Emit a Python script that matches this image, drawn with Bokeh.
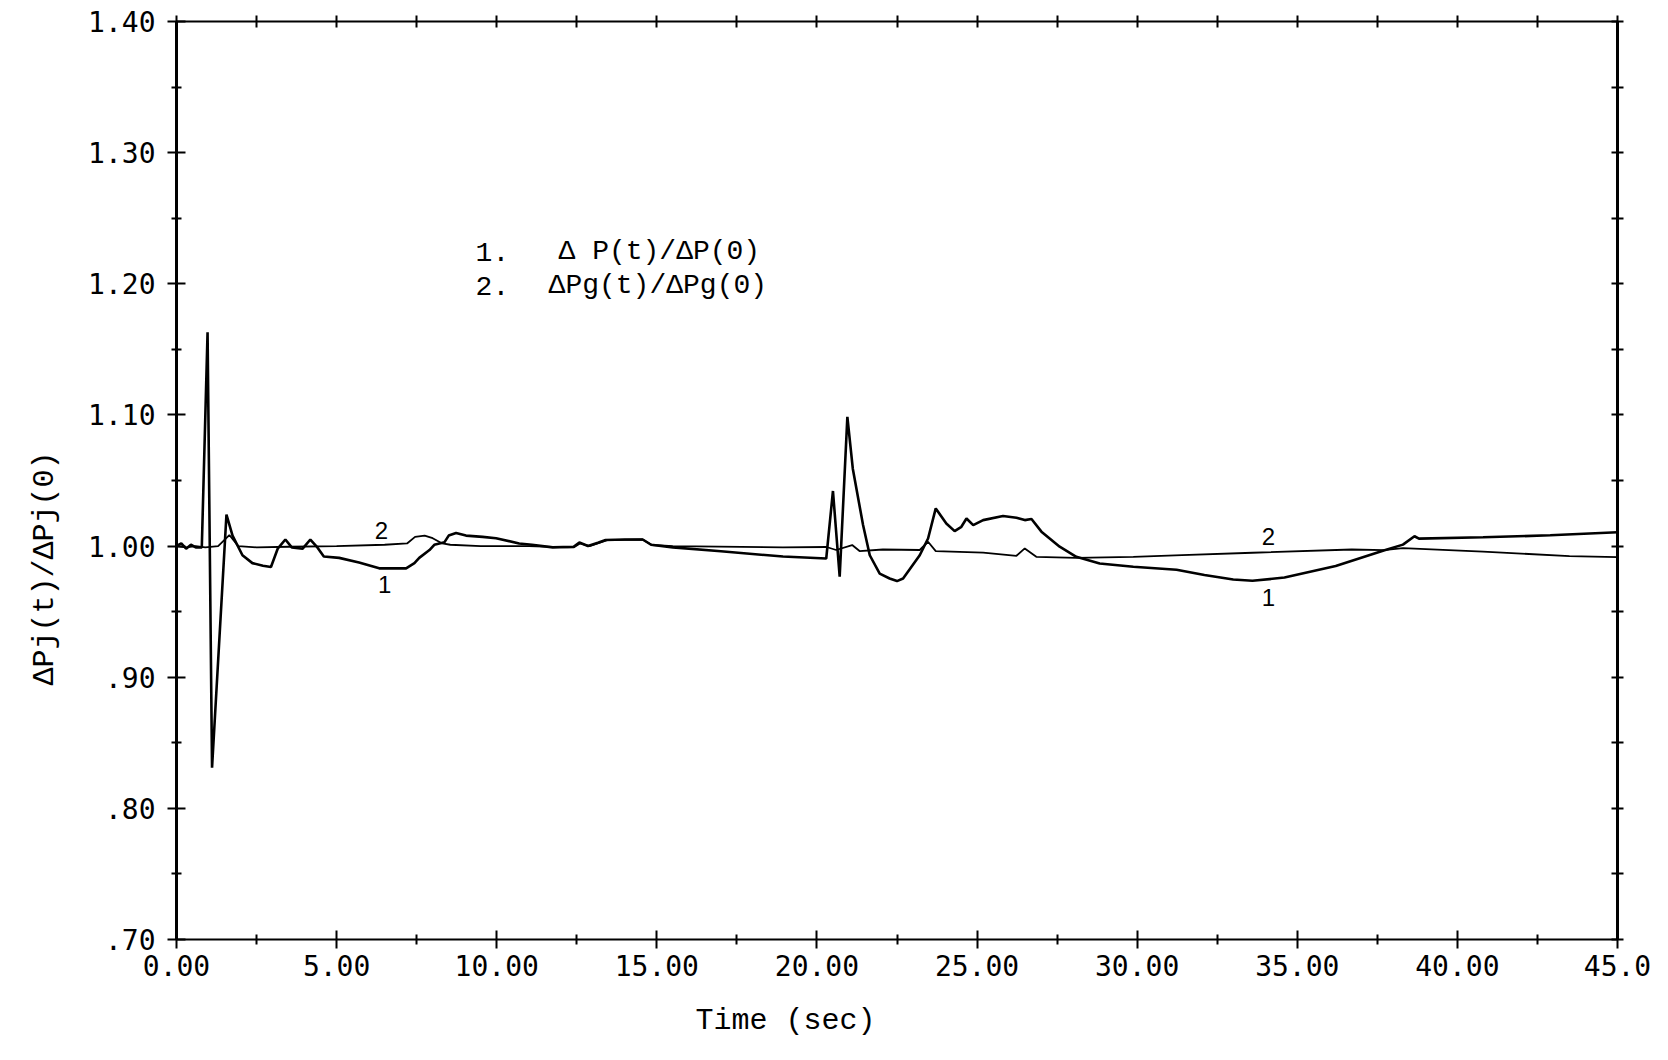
from bokeh.plotting import figure
from bokeh.models import Range1d, LinearAxis, FixedTicker, CustomJSTickFormatter, Label, Title
from bokeh.embed import file_html
from bokeh.resources import INLINE

# --- data -------------------------------------------------------------
# Curve 1: normalised real-power deviation  dP(t)/dP(0)
t_p = [0.00, 0.15, 0.30, 0.45, 0.60, 0.79, 0.97, 1.11, 1.56, 1.75,
       2.06, 2.37, 2.70, 2.95, 3.16, 3.40, 3.60, 3.94, 4.18, 4.40,
       4.60, 5.08, 5.70, 6.33, 7.17, 7.43, 7.58, 7.90, 8.05, 8.37,
       8.50, 8.73, 9.04, 9.56, 9.98, 10.70, 11.10, 11.75, 12.40, 12.58,
       12.85, 13.16, 13.40, 14.00, 14.56, 14.82, 15.50, 17.00, 18.94, 20.29,
       20.50, 20.71, 20.95, 21.12, 21.44, 21.65, 21.96, 22.27, 22.50, 22.69,
       23.21, 23.47, 23.71, 24.04, 24.30, 24.51, 24.67, 24.88, 25.19, 25.81,
       26.23, 26.49, 26.70, 27.01, 27.58, 28.10, 28.83, 29.88, 31.23, 32.10,
       33.00, 33.60, 34.60, 36.20, 37.70, 38.30, 38.66, 38.80, 40.80, 42.90,
       45.00]
dp = [1.000, 1.002, 0.998, 1.001, 0.999, 0.999, 1.163, 0.831, 1.024, 1.008,
      0.993, 0.987, 0.985, 0.984, 0.998, 1.005, 0.999, 0.998, 1.005, 0.999,
      0.992, 0.991, 0.9875, 0.983, 0.983, 0.987, 0.991, 0.997, 1.001, 1.003,
      1.008, 1.010, 1.008, 1.007, 1.006, 1.002, 1.001, 0.999, 0.9995, 1.0027,
      1.000, 1.0025, 1.0046, 1.005, 1.005, 1.001, 0.999, 0.996, 0.992, 0.9905,
      1.042, 0.9766, 1.0986, 1.059, 1.016, 0.993, 0.979, 0.9753, 0.9733, 0.9753,
      0.993, 1.0058, 1.0287, 1.0172, 1.0114, 1.0147, 1.021, 1.016, 1.0198, 1.0229,
      1.0216, 1.0198, 1.0206, 1.011, 0.9995, 0.9918, 0.9867, 0.9842, 0.982, 0.978,
      0.9745, 0.9735, 0.976, 0.9848, 0.9966, 1.0011, 1.0075, 1.0057, 1.0067, 1.0082,
      1.0105]

# Curve 2: normalised generator-power deviation  dPg(t)/dPg(0)
t_pg = [0.00, 0.30, 0.60, 0.90, 1.30, 1.65, 1.93, 2.50, 3.50, 5.00,
        6.50, 7.20, 7.45, 7.75, 8.00, 8.30, 8.55, 9.50, 11.00, 12.20,
        12.40, 12.60, 12.90, 13.20, 13.45, 14.55, 14.85, 15.50, 18.94, 20.30,
        20.60, 21.10, 21.33, 22.06, 23.21, 23.47, 23.71, 25.19, 26.23, 26.49,
        26.85, 28.10, 29.88, 31.40, 33.60, 36.70, 37.70, 38.30, 40.80, 43.50,
        45.00]
dpg = [1.000, 0.999, 1.000, 0.999, 1.000, 1.0084, 1.000, 0.999, 0.9995, 1.000,
       1.001, 1.002, 1.007, 1.008, 1.006, 1.002, 1.001, 1.000, 1.000, 0.999,
       0.999, 1.002, 1.000, 1.0025, 1.0046, 1.005, 1.0008, 1.000, 0.999, 0.9993,
       0.997, 1.0008, 0.9962, 0.9974, 0.997, 1.0033, 0.9962, 0.995, 0.9926, 0.9982,
       0.9918, 0.991, 0.9918, 0.9931, 0.9949, 0.9974, 0.9969, 0.9985, 0.9957, 0.9924,
       0.9916]

x_ticks = [0, 5, 10, 15, 20, 25, 30, 35, 40, 45]
x_tick_labels = ["0.00", "5.00", "10.00", "15.00", "20.00", "25.00",
                 "30.00", "35.00", "40.00", "45.0"]
y_ticks = [0.70, 0.80, 0.90, 1.00, 1.10, 1.20, 1.30, 1.40]
y_tick_labels = [".70", ".80", ".90", "1.00", "1.10", "1.20", "1.30", "1.40"]

legend_lines = [("1.", "\u0394 P(t)/\u0394P(0)"), ("2.", "\u0394Pg(t)/\u0394Pg(0)")]
x_title = "Time (sec)"
y_title = "\u0394Pj(t)/\u0394Pj(0)"

# --- figure -----------------------------------------------------------
p = figure(width=1668, height=1060, output_backend="svg", toolbar_location=None,
           x_range=Range1d(0, 45), y_range=Range1d(0.70, 1.40),
           min_border_left=176, min_border_right=51,
           min_border_top=21, min_border_bottom=121)
p.outline_line_color = None
p.grid.visible = False
p.background_fill_color = "white"
p.border_fill_color = "white"

TICK_FONT = "DejaVu Sans Mono"
TEXT_FONT = "Liberation Mono"


def fmt(vals, labels):
    return CustomJSTickFormatter(
        args=dict(tv=vals, tl=labels),
        code="const i = tv.findIndex(v => Math.abs(v - tick) < 1e-6);"
             "return i >= 0 ? tl[i] : '';")


xa = p.xaxis[0]
xa.ticker = FixedTicker(ticks=x_ticks, minor_ticks=[2.5 + 5 * i for i in range(9)])
xa.formatter = fmt(x_ticks, x_tick_labels)
xa.axis_line_width = 2
xa.major_tick_in = 9
xa.major_tick_out = 9
xa.major_tick_line_width = 2
xa.minor_tick_in = 5
xa.minor_tick_out = 5
xa.minor_tick_line_width = 2
xa.major_label_standoff = 6
xa.major_label_text_font = TICK_FONT
xa.major_label_text_font_size = "28px"
xa.major_label_text_color = "black"

ya = p.yaxis[0]
ya.ticker = FixedTicker(ticks=y_ticks, minor_ticks=[0.75, 0.85, 0.95, 1.05, 1.15, 1.25, 1.35])
ya.formatter = fmt(y_ticks, y_tick_labels)
ya.axis_line_width = 3
ya.major_tick_in = 9
ya.major_tick_out = 9
ya.major_tick_line_width = 2
ya.minor_tick_in = 5
ya.minor_tick_out = 5
ya.minor_tick_line_width = 2
ya.major_label_standoff = 12
ya.major_label_text_font = TICK_FONT
ya.major_label_text_font_size = "28px"
ya.major_label_text_color = "black"

# frame: top and right axes carry ticks only
top = LinearAxis(ticker=FixedTicker(ticks=[2.5 * i for i in range(19)], minor_ticks=[]),
                 axis_line_width=2, major_tick_in=6, major_tick_out=6,
                 major_tick_line_width=2, major_label_text_font_size="1px",
                 major_label_standoff=0, major_label_text_color=None)
right = LinearAxis(ticker=FixedTicker(ticks=[0.70 + 0.05 * i for i in range(15)], minor_ticks=[]),
                   axis_line_width=3, major_tick_in=6, major_tick_out=6,
                   major_tick_line_width=2, major_label_text_font_size="1px",
                   major_label_standoff=0, major_label_text_color=None)
p.add_layout(top, "above")
p.add_layout(right, "right")

# axis titles as side panels
p.add_layout(Title(text=x_title, align="left", offset=519, standoff=46,
                   text_font=TEXT_FONT, text_font_size="30px",
                   text_font_style="normal", text_color="black"), "below")
p.add_layout(Title(text=y_title, align="left", offset=254, standoff=48,
                   text_font=TEXT_FONT, text_font_size="30px",
                   text_font_style="normal", text_color="black"), "left")

# --- curves -----------------------------------------------------------
p.line(t_pg, dpg, line_color="black", line_width=1.8)
p.line(t_p, dp, line_color="black", line_width=2.6)

# curve tags
for tx, ty, s in [(6.4, 1.012, "2"), (6.5, 0.971, "1"), (34.1, 1.0076, "2"), (34.1, 0.961, "1")]:
    p.add_layout(Label(x=tx, y=ty, text=s, text_font="Liberation Sans",
                       text_font_size="24px", text_align="center",
                       text_baseline="middle", text_color="black"))

# legend text
for (num, expr), ly, ex in zip(legend_lines, [1.2244, 1.1985], [11.93, 11.62]):
    p.add_layout(Label(x=9.34, y=ly, text=num, text_font=TEXT_FONT, text_font_size="28px",
                       text_baseline="middle", text_color="black"))
    p.add_layout(Label(x=ex, y=ly, text=expr, text_font=TEXT_FONT, text_font_size="28px",
                       text_baseline="middle", text_color="black"))

open("out.html", "w").write(file_html(p, INLINE))
